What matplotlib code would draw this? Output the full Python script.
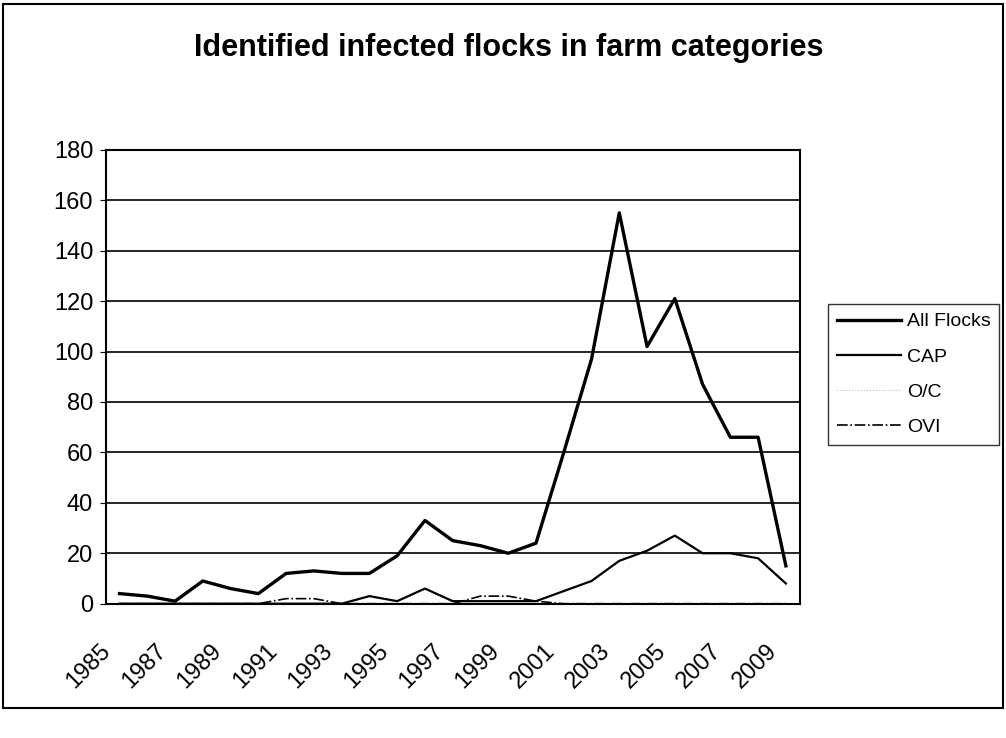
import matplotlib.pyplot as plt
import matplotlib.transforms as mtransforms
from matplotlib.patches import Rectangle

plt.rcParams['font.family'] = ['Liberation Sans', 'DejaVu Sans']

# data
years = list(range(1985, 2010))
all_flocks = [4, 3, 1, 9, 6, 4, 12, 13, 12, 12, 19, 33, 25, 23, 20, 24,
              60, 97, 155, 102, 121, 87, 66, 66, 15]
cap = [0, 0, 0, 0, 0, 0, 0, 0, 0, 3, 1, 6, 1, 1, 1, 1,
       5, 9, 17, 21, 27, 20, 20, 18, 8]
oc = [0] * 25
ovi = [0, 0, 0, 0, 0, 0, 2, 2, 0, 0, 0, 0, 0, 3, 3, 1,
       0, 0, 0, 0, 0, 0, 0, 0, 0]
tick_labels = [str(y) if (y - 1985) % 2 == 0 else '' for y in years]

fig = plt.figure(figsize=(10.06, 7.38), dpi=100)
ax = fig.add_axes([0.105, 0.182, 0.690, 0.615])

x = range(len(years))
ax.plot(x, oc, color='0.75', lw=0.8, ls=':', label='O/C', zorder=2)
ax.plot(x, ovi, color='black', lw=1.2, ls='-.', label='OVI', zorder=3)
ax.plot(x, cap, color='black', lw=1.6, label='CAP', zorder=4)
ax.plot(x, all_flocks, color='black', lw=2.4, label='All Flocks', zorder=5)

ax.set_xlim(-0.5, len(years) - 0.5)
ax.set_ylim(0, 180)
ax.set_yticks(range(0, 181, 20))
ax.yaxis.grid(True, color='black', lw=1.2)
ax.set_axisbelow(True)
ax.set_xticks(list(x))
ax.set_xticklabels(tick_labels, rotation=45, ha='right', rotation_mode='anchor')
ax.tick_params(axis='y', labelsize=17, length=4, color='black', pad=5)
ax.tick_params(axis='x', labelsize=17, length=0, pad=26)
shift = mtransforms.ScaledTranslation(-20 / 100, 0, fig.dpi_scale_trans)
for lbl in ax.get_xticklabels():
    lbl.set_transform(lbl.get_transform() + shift)
for s in ax.spines.values():
    s.set_linewidth(1.5)

fig.text(0.506, 0.935, 'Identified infected flocks in farm categories',
         ha='center', va='center', fontsize=22, fontweight='bold')

handles, labels = ax.get_legend_handles_labels()
order = [3, 2, 0, 1]
leg = fig.legend([handles[i] for i in order], [labels[i] for i in order],
                 loc='upper left', bbox_to_anchor=(0.823, 0.588),
                 fontsize=14, frameon=True, fancybox=False,
                 edgecolor='black', handlelength=3.3, handletextpad=0.3,
                 labelspacing=0.9, borderpad=0.45, borderaxespad=0)
leg.get_frame().set_linewidth(1.0)

fig.patches.append(Rectangle((0.003, 0.04), 0.994, 0.955, transform=fig.transFigure,
                             fill=False, edgecolor='black', lw=1.5))

fig.savefig('out.png', dpi=100)
